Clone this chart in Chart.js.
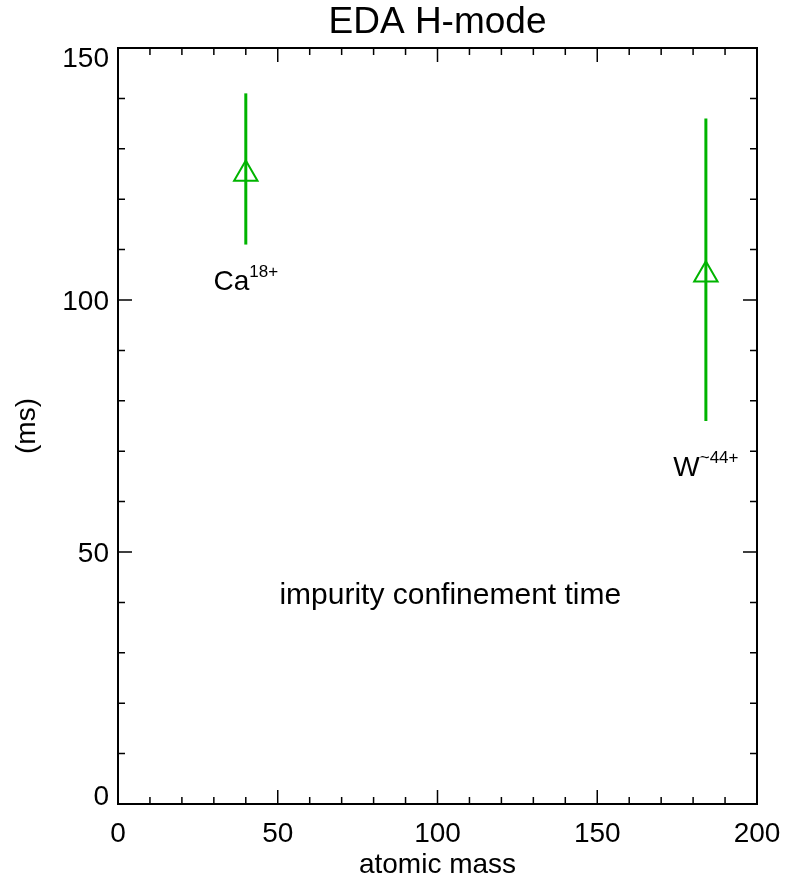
<!DOCTYPE html>
<html lang="en">
<head>
  <meta charset="UTF-8">
  <title>EDA H-mode</title>
  <script src="https://cdn.jsdelivr.net/npm/chart.js"></script>
  <style>
    body { margin: 0; background: #fff; }
    #wrap { width: 787px; height: 882px; }
  </style>
</head>
<body>
  <div id="wrap"><canvas id="myChart"></canvas></div>

  <script>
    // data
    const ions = ["Ca", "W"];
    const ionCharge = ["18+", "~44+"];
    const atomicMass = [40, 184];
    const tauMs = [125, 105];
    const tauLow = [111, 76];
    const tauHigh = [141, 136];

    const xTicks = [0, 50, 100, 150, 200];
    const yTicks = [0, 50, 100, 150];

    const GREEN = "rgb(0,180,0)";
    const FONT = "'Liberation Sans', Arial, Helvetica, sans-serif";

    // vertical error bars, drawn through the scales
    const errorBars = {
      id: "errorBars",
      beforeDatasetsDraw(chart) {
        const { ctx, scales: { x, y } } = chart;
        ctx.save();
        ctx.strokeStyle = GREEN;
        ctx.lineWidth = 3;
        for (let i = 0; i < atomicMass.length; i++) {
          const px = x.getPixelForValue(atomicMass[i]);
          ctx.beginPath();
          ctx.moveTo(px, y.getPixelForValue(tauLow[i]));
          ctx.lineTo(px, y.getPixelForValue(tauHigh[i]));
          ctx.stroke();
        }
        ctx.restore();
      }
    };

    // IDL-style box axes with inward ticks and the text
    const idlAxes = {
      id: "idlAxes",
      afterDraw(chart) {
        const { ctx, chartArea: a, scales: { x, y } } = chart;
        ctx.save();
        ctx.strokeStyle = "#000";
        ctx.fillStyle = "#000";

        ctx.lineWidth = 2;
        ctx.strokeRect(a.left, a.top, a.right - a.left, a.bottom - a.top);

        ctx.lineWidth = 1.5;
        ctx.beginPath();
        for (let v = x.min; v <= x.max; v += 10) {
          const px = x.getPixelForValue(v);
          const len = v % 50 === 0 ? 14 : 7;
          ctx.moveTo(px, a.bottom); ctx.lineTo(px, a.bottom - len);
          ctx.moveTo(px, a.top); ctx.lineTo(px, a.top + len);
        }
        for (let v = y.min; v <= y.max; v += 10) {
          const py = y.getPixelForValue(v);
          const len = v % 50 === 0 ? 14 : 7;
          ctx.moveTo(a.left, py); ctx.lineTo(a.left + len, py);
          ctx.moveTo(a.right, py); ctx.lineTo(a.right - len, py);
        }
        ctx.stroke();

        // tick labels
        ctx.font = "28px " + FONT;
        ctx.textAlign = "center";
        ctx.textBaseline = "alphabetic";
        xTicks.forEach(v => ctx.fillText(String(v), x.getPixelForValue(v), a.bottom + 38));
        ctx.textAlign = "right";
        yTicks.forEach(v => {
          let by = y.getPixelForValue(v) + 10;
          by = Math.max(a.top + 19, Math.min(a.bottom + 1, by));
          ctx.fillText(String(v), a.left - 9, by);
        });

        // axis titles
        ctx.textAlign = "center";
        ctx.fillText("atomic mass", (a.left + a.right) / 2, a.bottom + 69);
        ctx.save();
        ctx.translate(35, (a.top + a.bottom) / 2);
        ctx.rotate(-Math.PI / 2);
        ctx.fillText("(ms)", 0, 0);
        ctx.restore();

        // title
        ctx.font = "37px " + FONT;
        ctx.fillText("EDA H-mode", (a.left + a.right) / 2, 33);

        // annotation
        ctx.font = "30px " + FONT;
        ctx.fillText("impurity confinement time", x.getPixelForValue(104), y.getPixelForValue(39.7));

        // ion labels with superscript charge
        const labelY = [102, 65];
        for (let i = 0; i < ions.length; i++) {
          ctx.font = "28px " + FONT;
          const w1 = ctx.measureText(ions[i]).width;
          ctx.font = "17px " + FONT;
          const w2 = ctx.measureText(ionCharge[i]).width;
          const left = x.getPixelForValue(atomicMass[i]) - (w1 + w2) / 2;
          const by = y.getPixelForValue(labelY[i]);
          ctx.textAlign = "left";
          ctx.font = "28px " + FONT;
          ctx.fillText(ions[i], left, by);
          ctx.font = "17px " + FONT;
          ctx.fillText(ionCharge[i], left + w1, by - 13);
        }
        ctx.restore();
      }
    };

    function drawChart() {
      const ctx = document.getElementById("myChart").getContext("2d");
      new Chart(ctx, {
        type: "scatter",
        data: {
          datasets: [{
            data: atomicMass.map((m, i) => ({ x: m, y: tauMs[i] })),
            pointStyle: "triangle",
            pointRadius: 13.5,
            pointHoverRadius: 13.5,
            pointBorderWidth: 2,
            borderColor: GREEN,
            backgroundColor: "rgba(0,0,0,0)"
          }]
        },
        options: {
          responsive: true,
          maintainAspectRatio: false,
          animation: false,
          layout: { padding: { left: 118, right: 30, top: 48, bottom: 78 } },
          plugins: { legend: { display: false }, tooltip: { enabled: false } },
          scales: {
            x: { type: "linear", min: 0, max: 200, display: false },
            y: { type: "linear", min: 0, max: 150, display: false }
          }
        },
        plugins: [errorBars, idlAxes]
      });
    }

    document.addEventListener("DOMContentLoaded", drawChart);
  </script>
</body>
</html>
